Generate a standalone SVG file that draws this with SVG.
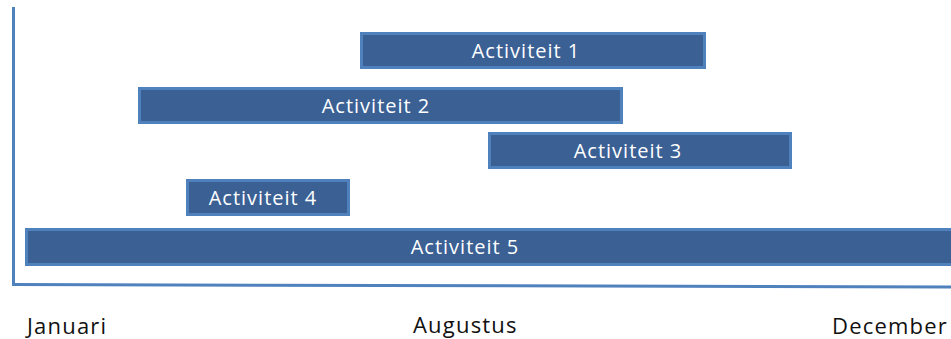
<svg xmlns="http://www.w3.org/2000/svg" width="951" height="339" viewBox="0 0 951 339">
<style>
.bar{fill:#3a6094;stroke:#4f81bd;stroke-width:3}
.bl{font-family:"Open Sans","Liberation Sans",sans-serif;font-size:20px;letter-spacing:1px;fill:#ffffff;text-anchor:middle}
.ax{font-family:"Open Sans","Liberation Sans",sans-serif;font-size:22px;letter-spacing:1.2px;fill:#111111}
.axis{stroke:#4f81bd;stroke-width:3;fill:none}
</style>
<rect width="951" height="339" fill="#ffffff"/>
<g id="axes">
<line class="axis" x1="13.5" y1="7" x2="13.5" y2="285"/>
<line class="axis" x1="12" y1="284.5" x2="951" y2="287"/>
</g>
<g id="act1"><rect class="bar" x="361.5" y="33.5" width="343" height="34"/><text class="bl" x="526" y="58">Activiteit 1</text></g>
<g id="act2"><rect class="bar" x="139.5" y="88.5" width="482" height="34"/><text class="bl" x="376" y="113">Activiteit 2</text></g>
<g id="act3"><rect class="bar" x="489.5" y="133.5" width="301" height="34"/><text class="bl" x="628" y="158">Activiteit 3</text></g>
<g id="act4"><rect class="bar" x="187.5" y="180.5" width="161" height="34"/><text class="bl" x="263" y="205">Activiteit 4</text></g>
<g id="act5"><rect class="bar" x="26.5" y="229.5" width="930" height="35"/><text class="bl" x="465" y="254">Activiteit 5</text></g>
<g id="labels">
<text class="ax" x="27" y="334">Januari</text>
<text class="ax" x="413" y="333">Augustus</text>
<text class="ax" x="832" y="334">December</text>
</g>
</svg>
